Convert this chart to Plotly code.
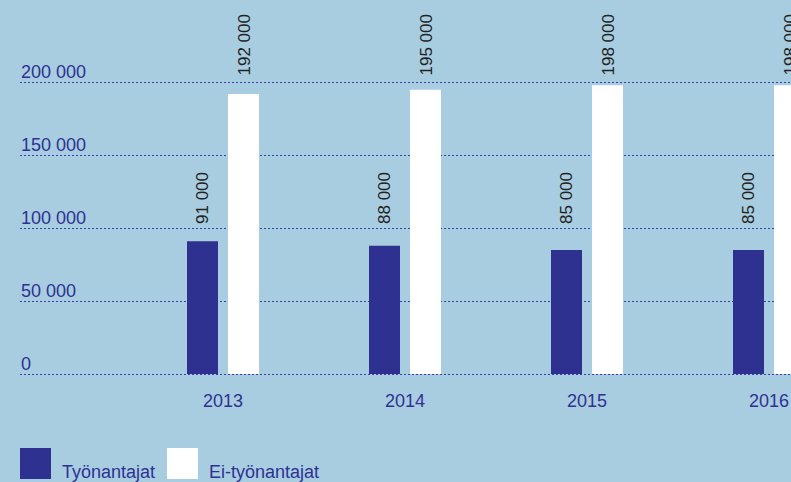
import plotly.graph_objects as go

years = ["2013", "2014", "2015", "2016"]
tyonantajat = [91000, 88000, 85000, 85000]
ei_tyonantajat = [192000, 195000, 198000, 198000]
series_names = ["Työnantajat", "Ei-työnantajat"]
y_ticks = [0, 50000, 100000, 150000, 200000]


def fmt(v):
    return f"{v:,}".replace(",", " ")


W, H = 791, 482
ML, MR, MT, MB = 20, 0, 0, 100
PW, PH = W - ML - MR, H - MT - MB
ZERO_PX = 374  # pixel row of value 0
PX_PER_UNIT = 72.9 / 50000
UNIT = 182.0  # px per category
x0 = -(223 - ML) / UNIT
x1 = x0 + PW / UNIT
Y_MIN = -(MT + PH - ZERO_PX) / PX_PER_UNIT
Y_TOP = (ZERO_PX - MT) / PX_PER_UNIT

BG = "#a8cde0"
NAVY = "#2e3190"
TXT = "#2f3192"
FONT = "Liberation Sans, Arial, Helvetica, sans-serif"

BW = 31 / UNIT
OFF_A = (187 - 223) / UNIT
OFF_B = (228 - 223) / UNIT


def px_x(p):
    return (p - ML) / PW


def px_y(p):
    return (MT + PH - p) / PH


# value labels sit on a common row per series (bottom edge, in pixels)
LABEL_ROW = {0: 226.5, 1: 77.5}

xs = list(range(len(years)))
fig = go.Figure()
fig.add_trace(go.Bar(x=xs, y=tyonantajat, name=series_names[0], marker_color=NAVY,
                     marker_line_width=0, width=BW, offset=OFF_A, showlegend=False))
fig.add_trace(go.Bar(x=xs, y=ei_tyonantajat, name=series_names[1], marker_color="#ffffff",
                     marker_line_width=0, width=BW, offset=OFF_B, showlegend=False))

annotations = []
for s, (vals, off) in enumerate(((tyonantajat, OFF_A), (ei_tyonantajat, OFF_B))):
    for i, v in enumerate(vals):
        annotations.append(dict(x=i + off + BW / 2, y=px_y(LABEL_ROW[s]), xref="x", yref="paper",
                                text=fmt(v), textangle=-90, showarrow=False,
                                yanchor="bottom", xanchor="center",
                                font=dict(family=FONT, size=17, color="#222222")))

# y tick labels, sitting above their dotted lines
for t in y_ticks:
    annotations.append(dict(x=0, y=t, xref="paper", yref="y", text=fmt(t), showarrow=False,
                            xanchor="left", yanchor="bottom", yshift=-2, xshift=-1,
                            font=dict(family=FONT, size=18, color=TXT)))

shapes = []
legend_items = [(series_names[0], NAVY, 20, 61), (series_names[1], "#ffffff", 167, 208)]
for name, col, sx, tx in legend_items:
    shapes.append(dict(type="rect", xref="paper", yref="paper", x0=px_x(sx), x1=px_x(sx + 31),
                       y0=px_y(479), y1=px_y(448), fillcolor=col, line_width=0))
    annotations.append(dict(x=px_x(tx), y=px_y(472), xref="paper", yref="paper", text=name,
                            showarrow=False, xanchor="left", yanchor="middle", xshift=-1,
                            font=dict(family=FONT, size=18, color=TXT)))

fig.update_layout(
    width=W, height=H, paper_bgcolor=BG, plot_bgcolor=BG,
    margin=dict(l=ML, r=MR, t=MT, b=MB, pad=0),
    barmode="overlay", showlegend=False,
    annotations=annotations, shapes=shapes,
    font=dict(family=FONT, size=18, color=TXT),
)
fig.update_xaxes(range=[x0, x1], tickmode="array", tickvals=xs, ticktext=years,
                 showgrid=False, zeroline=False, showline=False, ticks="",
                 ticklabelstandoff=6, tickfont=dict(family=FONT, size=18, color=TXT))
fig.update_yaxes(range=[Y_MIN, Y_TOP], tickvals=y_ticks, showticklabels=False,
                 showgrid=True, gridcolor="#3c3caa", gridwidth=1.3, griddash="1.5px,2.5px",
                 zeroline=False, showline=False, ticks="")

fig.write_html("out.html", config={"displayModeBar": False},
               post_script="document.body.style.margin='0';document.body.style.background='" + BG + "';")
